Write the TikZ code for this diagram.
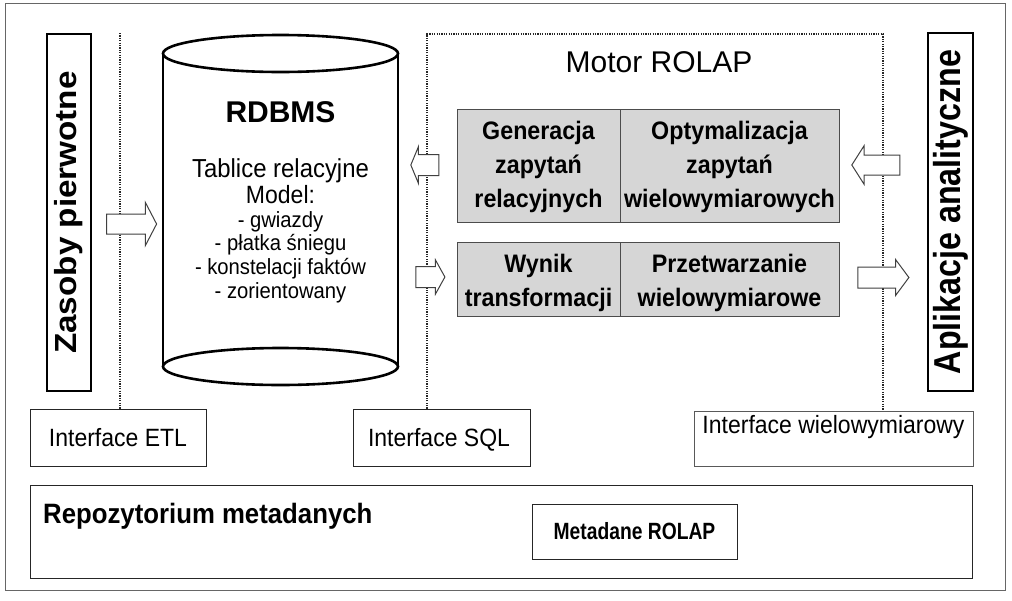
\documentclass[tikz,border=0pt]{standalone}
\usepackage{fontspec}
\setmainfont{Liberation Sans}
\newfontfamily\condA[FakeStretch=0.92]{Liberation Sans}
\newfontfamily\condB[FakeStretch=0.82]{Liberation Sans}
\newfontfamily\condC[FakeStretch=0.86]{Liberation Sans}
\newfontfamily\wideA[FakeStretch=1.09]{Liberation Sans}
\usetikzlibrary{shapes.arrows}
\newcommand\setfs[2]{\fontsize{#1}{#2}\selectfont}
\newcommand\toplift[1]{\rule{0pt}{#1}}

\begin{document}
\begin{tikzpicture}[x=1pt,y=-1pt,
  outer/.style={draw=black!60, line width=1pt},
  dotline/.style={draw=black!85, line width=1.3pt, dash pattern=on 1.2pt off 1.2pt},
  sidebox/.style={draw=black, line width=2pt, inner sep=0pt, rotate=90},
  cylline/.style={draw=black, line width=2.6pt},
  engbox/.style={draw=black!70, line width=1pt, fill=black!16, align=center,
                 inner sep=0pt, font=\condA\bfseries\setfs{25.3}{34}},
  ifbox/.style={draw=black!85, line width=1pt, inner sep=0pt, fill=white},
  iftext/.style={anchor=base, inner sep=0pt, font=\condA\setfs{25}{28}},
  flow/.style={single arrow, draw=black!75, line width=1pt, fill=white,
               inner xsep=0pt, single arrow head indent=0pt},
  cyltext/.style={anchor=base, inner sep=0pt, font=\condA\setfs{22}{24}},
]

\useasboundingbox (0,0) rectangle (1012,600);
\fill[white] (0,0) rectangle (1012,600);
\draw[outer] (5,3) rectangle (1005,590);

% side bars: sources and analytic applications
\node[sidebox, minimum width=357pt, minimum height=44pt,
      font=\wideA\bfseries\setfs{30.5}{32}] (zasoby) at (69,212.5) {Zasoby pierwotne};
\node[sidebox, minimum width=358pt, minimum height=45pt,
      font=\condC\bfseries\setfs{37.5}{40}] (aplik) at (950.5,212) {Aplikacje analityczne};

% interfaces
\node[ifbox, minimum width=176pt, minimum height=57pt] (etl) at (118,437.5) {};
\node[iftext] (etltxt) at (118,446) {Interface ETL};
\node[ifbox, minimum width=177pt, minimum height=57pt] (sql) at (441.5,437.5) {};
\node[iftext] (sqltxt) at (439,446) {Interface SQL};
\node[ifbox, draw=black!65, minimum width=279pt, minimum height=55pt] (wiel) at (833.5,438.5) {};
\node[iftext] (wieltxt) at (833.5,433) {Interface wielowymiarowy};

% metadata repository
\node[ifbox, minimum width=942pt, minimum height=93pt] (repo) at (501,531.5) {};
\node[anchor=base west, inner sep=0pt, font=\condA\bfseries\setfs{28}{30}] (repotxt) at (43,523) {Repozytorium metadanych};
\node[ifbox, minimum width=205pt, minimum height=55pt,
      font=\condB\bfseries\setfs{23.5}{26}] (meta) at (634.5,531.5) {Metadane ROLAP};

% dotted separators and the ROLAP engine frame
\coordinate (etlline) at (120,33);
\coordinate (mtl) at (427,34);
\coordinate (mtr) at (883,34);
\draw[dotline] (etlline) -- (etlline |- etl.north);
\draw[dotline] (mtl |- sql.north) -- (mtl) -- (mtr) -- (mtr |- wiel.north);

% RDBMS cylinder
\coordinate (cyltop) at (280.5,53.5);
\coordinate (cylbot) at (280.5,366.5);
\draw[cylline] (cyltop) ellipse [x radius=117.5pt, y radius=18.5pt];
\draw[cylline] (cylbot) ellipse [x radius=117.5pt, y radius=18.5pt];
\draw[cylline] ([xshift=-117.5pt]cyltop) -- ([xshift=-117.5pt]cylbot);
\draw[cylline] ([xshift=117.5pt]cyltop) -- ([xshift=117.5pt]cylbot);

\node[anchor=base, inner sep=0pt, font=\bfseries\setfs{30}{32}] (rdbms) at (280.5,122) {RDBMS};
\node[cyltext, font=\condA\setfs{26}{28}] (tabl) at (280.5,177) {Tablice relacyjne};
\node[cyltext, font=\condA\setfs{25}{28}] (model) at (280.5,203) {Model:};
\node[cyltext] (m1) at (280.5,227) {- gwiazdy};
\node[cyltext] (m2) at (280.5,250) {- płatka śniegu};
\node[cyltext] (m3) at (280.5,274) {- konstelacji faktów};
\node[cyltext] (m4) at (280.5,298) {- zorientowany};

% ROLAP engine
\node[anchor=base, inner sep=0pt, font=\setfs{30}{32}] (motor) at (659,72) {Motor ROLAP};
\node[engbox, minimum width=163pt, minimum height=113pt] (gen) at (538.5,165.5)
  {\toplift{21pt}Generacja\\zapytań\\relacyjnych};
\node[engbox, minimum width=219pt, minimum height=113pt] (opt) at (729.5,165.5)
  {\toplift{21pt}Optymalizacja\\zapytań\\wielowymiarowych};
\node[engbox, minimum width=163pt, minimum height=74pt] (wyn) at (538.5,279)
  {\toplift{27pt}Wynik\\transformacji};
\node[engbox, minimum width=219pt, minimum height=74pt] (prz) at (729.5,279)
  {\toplift{27pt}Przetwarzanie\\wielowymiarowe};

% flow arrows
\node[flow, minimum height=50pt, inner ysep=9.5pt, single arrow head extend=11.5pt,
      single arrow tip angle=125] (a1) at (129,224) {};
\node[flow, shape border rotate=180, minimum height=28pt, inner ysep=10pt,
      single arrow head extend=8pt, single arrow tip angle=135] (a2) at (427,165) {};
\node[flow, minimum height=29pt, inner ysep=10pt, single arrow head extend=6.5pt,
      single arrow tip angle=122] (a3) at (427.5,277) {};
\node[flow, shape border rotate=180, minimum height=48pt, inner ysep=9.5pt,
      single arrow head extend=9.5pt, single arrow tip angle=115] (a4) at (879,165) {};
\node[flow, minimum height=51pt, inner ysep=10pt, single arrow head extend=7.5pt,
      single arrow tip angle=107] (a5) at (879.5,277.5) {};

\end{tikzpicture}
\end{document}
